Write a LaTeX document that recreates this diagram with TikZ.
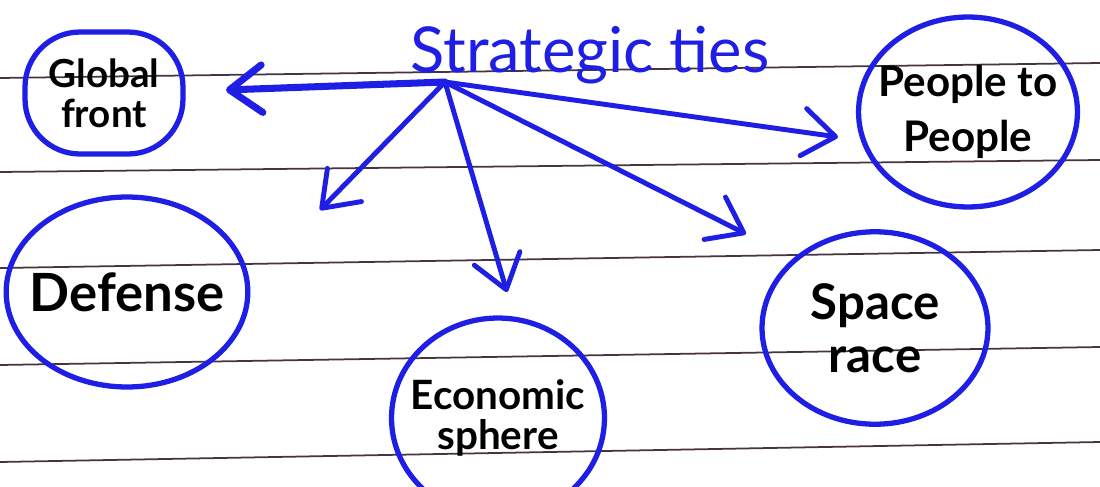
\documentclass[tikz,border=0pt]{standalone}
\usepackage{fontspec}
\setmainfont{Lato}
\usetikzlibrary{shapes.geometric, arrows.meta, positioning}
\definecolor{penblue}{RGB}{30,30,228}
\definecolor{ruleink}{RGB}{72,52,62}

\begin{document}
\begin{tikzpicture}[x=0.02cm, y=-0.02cm]
        \tikzstyle{rule} = [draw=ruleink, line width=1pt]
        \tikzstyle{bubble} = [ellipse, draw=penblue, line width=3pt, align=center, text=black, inner sep=0pt, inner xsep=-0.24cm]
        \tikzstyle{tie} = [draw=penblue, line width=2.8pt, line cap=round, -{Straight Barb[length=6.5mm, width=9.5mm, line cap=round, line join=round]}]

        \useasboundingbox[fill=white] (0,0) rectangle (1100,487);

        % ruled paper
        \draw[rule] (0,78) -- (1100,63);
        \draw[rule] (0,172) -- (1100,160);
        \draw[rule] (0,268) -- (1100,250);
        \draw[rule] (0,365) -- (1100,347);
        \draw[rule] (0,462) -- (1100,442);

        \node[penblue, anchor=base, font=\fontsize{36}{40}\selectfont] (title) at (590,72) {Strategic ties};
        \coordinate (hub) at (445,82);

        \node[bubble, rectangle, rounded corners=1.1cm, inner xsep=0pt, minimum width=3.16cm, minimum height=2.44cm,
              font=\bfseries\fontsize{22}{23}\selectfont] (global) at (104,93) {Global\\front};
        \node[bubble, minimum width=4.28cm, minimum height=3.8cm,
              font=\bfseries\fontsize{24}{31}\selectfont] (people) at (968,112) {People to\\People};
        \node[bubble, minimum width=4.72cm, minimum height=3.8cm,
              font=\bfseries\fontsize{30}{36}\selectfont] (defense) at (127,292) {Defense};
        \node[bubble, minimum width=4.26cm, minimum height=4.0cm,
              font=\bfseries\fontsize{23}{23}\selectfont] (economic) at (498,418) {Economic\\sphere};
        \node[bubble, minimum width=4.52cm, minimum height=3.85cm,
              font=\bfseries\fontsize{28}{30}\selectfont] (space) at (875,328) {Space\\race};

        % arrow tips
        \coordinate (toglobal) at (226,90);
        \coordinate (todefense) at (320,210);
        \coordinate (toeconomic) at (507,292);
        \coordinate (tospace) at (746,234);
        \coordinate (topeople) at (838,137);

        \draw[tie, line width=4pt] (hub) -- (toglobal);
        \draw[tie] (hub) -- (todefense);
        \draw[tie] (hub) -- (toeconomic);
        \draw[tie] (hub) -- (tospace);
        \draw[tie] (hub) -- (topeople);

    \end{tikzpicture}
\end{document}
